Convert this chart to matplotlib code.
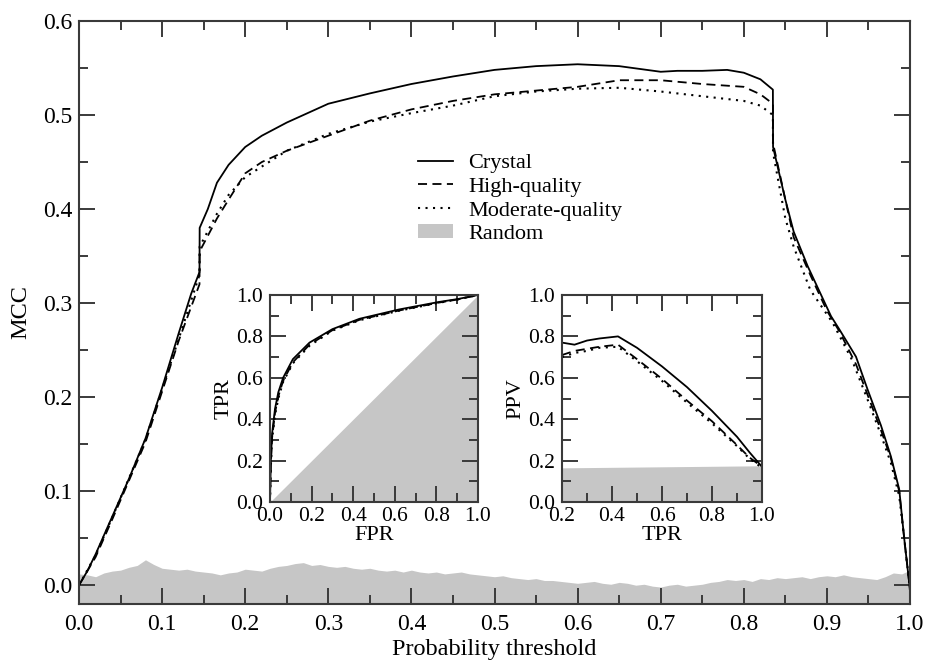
import matplotlib
matplotlib.use('Agg')
import matplotlib.pyplot as plt
import numpy as np
from matplotlib.patches import Patch
from matplotlib.ticker import MultipleLocator, FormatStrFormatter

plt.rcParams['font.family'] = ['Liberation Serif', 'DejaVu Serif']

# ---------------------------- main panel: MCC vs threshold ----------------------------
crystal_x = [0.0, 0.01, 0.02, 0.04, 0.06, 0.08, 0.10, 0.12, 0.135, 0.145, 0.1452, 0.155, 0.166,
             0.18, 0.20, 0.22, 0.25, 0.28, 0.30, 0.35, 0.40, 0.45, 0.50, 0.55, 0.60, 0.65, 0.70,
             0.72, 0.75, 0.78, 0.80, 0.82, 0.835, 0.8352, 0.85, 0.86, 0.877, 0.905, 0.915, 0.935,
             0.949, 0.965, 0.977, 0.987, 0.993, 1.0]
crystal_y = [0.0, 0.015, 0.033, 0.073, 0.113, 0.156, 0.21, 0.268, 0.31, 0.333, 0.38, 0.40, 0.428,
             0.447, 0.466, 0.478, 0.492, 0.504, 0.512, 0.523, 0.533, 0.541, 0.548, 0.552, 0.554, 0.552, 0.546,
             0.547, 0.547, 0.548, 0.545, 0.538, 0.527, 0.466, 0.41, 0.376, 0.339, 0.286, 0.272, 0.243,
             0.208, 0.17, 0.137, 0.102, 0.05, -0.005]

high_x = [0.0, 0.02, 0.04, 0.08, 0.12, 0.145, 0.1452, 0.166, 0.18, 0.20, 0.22, 0.25, 0.30, 0.35,
          0.40, 0.45, 0.50, 0.55, 0.60, 0.65, 0.70, 0.75, 0.80, 0.82, 0.835, 0.8352, 0.85, 0.86,
          0.88, 0.90, 0.915, 0.935, 0.95, 0.965, 0.977, 0.987, 0.993, 1.0]
high_y = [0.0, 0.03, 0.07, 0.152, 0.26, 0.32, 0.355, 0.39, 0.41, 0.438, 0.45, 0.462, 0.478, 0.494,
          0.506, 0.515, 0.522, 0.526, 0.53, 0.537, 0.537, 0.533, 0.53, 0.522, 0.512, 0.47, 0.41, 0.37,
          0.33, 0.292, 0.27, 0.235, 0.2, 0.165, 0.135, 0.1, 0.05, -0.005]

moderate_x = [0.0, 0.02, 0.04, 0.08, 0.12, 0.145, 0.1452, 0.166, 0.18, 0.20, 0.25, 0.30, 0.35,
              0.40, 0.45, 0.50, 0.55, 0.60, 0.65, 0.70, 0.75, 0.80, 0.82, 0.835, 0.8352, 0.85,
              0.86, 0.88, 0.907, 0.93, 0.95, 0.965, 0.977, 0.987, 0.993, 1.0]
moderate_y = [0.0, 0.032, 0.072, 0.155, 0.262, 0.33, 0.36, 0.395, 0.415, 0.434, 0.462, 0.48, 0.493,
              0.502, 0.51, 0.52, 0.525, 0.528, 0.529, 0.525, 0.52, 0.515, 0.51, 0.5, 0.46, 0.39,
              0.36, 0.314, 0.279, 0.24, 0.195, 0.16, 0.13, 0.095, 0.05, -0.005]

random_x = np.linspace(0, 1, 101)
random_y = [0.012, 0.011, 0.009, 0.013, 0.015, 0.016, 0.019, 0.021, 0.027, 0.022,
            0.018, 0.017, 0.016, 0.017, 0.015, 0.014, 0.013, 0.011, 0.013, 0.014,
            0.017, 0.016, 0.015, 0.018, 0.020, 0.021, 0.023, 0.024, 0.021, 0.022,
            0.020, 0.019, 0.020, 0.018, 0.017, 0.018, 0.016, 0.015, 0.016, 0.014,
            0.016, 0.014, 0.013, 0.014, 0.012, 0.013, 0.014, 0.012, 0.011, 0.010,
            0.009, 0.010, 0.008, 0.007, 0.006, 0.007, 0.005, 0.005, 0.004, 0.003,
            0.002, 0.003, 0.004, 0.002, 0.001, 0.003, 0.002, 0.000, 0.001, -0.001,
            -0.002, 0.000, 0.001, -0.001, 0.000, 0.001, 0.003, 0.004, 0.006, 0.005,
            0.006, 0.004, 0.007, 0.006, 0.008, 0.007, 0.008, 0.009, 0.007, 0.009,
            0.010, 0.009, 0.011, 0.009, 0.008, 0.007, 0.006, 0.009, 0.013, 0.012,
            0.016]

# ---------------------------- inset 1: ROC ----------------------------
roc_fpr = [0.0, 0.004, 0.01, 0.024, 0.04, 0.063, 0.11, 0.19, 0.30, 0.43, 0.62, 0.81, 0.9, 1.0]
roc_crystal = [0.0, 0.2, 0.33, 0.45, 0.53, 0.60, 0.69, 0.77, 0.835, 0.885, 0.93, 0.966, 0.98, 1.0]
roc_high = [0.0, 0.18, 0.31, 0.43, 0.51, 0.585, 0.675, 0.76, 0.83, 0.88, 0.925, 0.963, 0.978, 1.0]
roc_moderate = [0.0, 0.17, 0.30, 0.42, 0.50, 0.58, 0.67, 0.755, 0.828, 0.878, 0.924, 0.962, 0.978, 1.0]
roc_random_x = [0.0, 1.0]
roc_random_y = [0.0, 1.0]

# ---------------------------- inset 2: PPV vs TPR ----------------------------
ppv_tpr = [0.2, 0.25, 0.3, 0.35, 0.424, 0.5, 0.6, 0.7, 0.8, 0.9, 0.95, 1.0]
ppv_crystal = [0.77, 0.76, 0.78, 0.79, 0.80, 0.745, 0.655, 0.555, 0.44, 0.315, 0.24, 0.17]
ppv_high = [0.71, 0.73, 0.74, 0.75, 0.76, 0.69, 0.595, 0.49, 0.39, 0.275, 0.215, 0.17]
ppv_moderate = [0.70, 0.72, 0.73, 0.745, 0.75, 0.68, 0.585, 0.48, 0.38, 0.27, 0.21, 0.165]
ppv_random_x = [0.2, 0.6, 1.0]
ppv_random_y = [0.165, 0.17, 0.175]

gray = '#c6c6c6'
frame = '#3a3a3a'
fs = 17
fs_in = 15.5
lw = 1.3
dash = (0, (5, 3))
dots = (0, (1, 2.6))


def style_axes(ax, xmaj, xmin, ymaj, ymin, xpad, ypad, size):
    ax.xaxis.set_major_locator(MultipleLocator(xmaj))
    ax.xaxis.set_minor_locator(MultipleLocator(xmin))
    ax.yaxis.set_major_locator(MultipleLocator(ymaj))
    ax.yaxis.set_minor_locator(MultipleLocator(ymin))
    ax.tick_params(which='both', direction='in', top=True, right=True,
                   color=frame, width=1.4, labelsize=size)
    ax.tick_params(axis='x', pad=xpad)
    ax.tick_params(axis='y', pad=ypad)
    ax.tick_params(which='major', length=11.5)
    ax.tick_params(which='minor', length=6.5)
    ax.xaxis.set_major_formatter(FormatStrFormatter('%.1f'))
    ax.yaxis.set_major_formatter(FormatStrFormatter('%.1f'))
    for s in ax.spines.values():
        s.set_color(frame)
        s.set_linewidth(1.5)


fig = plt.figure(figsize=(9.28, 6.62), dpi=100)
ax = fig.add_axes([79 / 928, 58 / 662, 831 / 928, 583 / 662])

ax.fill_between(random_x, -0.02, random_y, color=gray, lw=0)
ax.plot(crystal_x, crystal_y, color='black', lw=lw, ls='-')
ax.plot(high_x, high_y, color='black', lw=lw, ls=dash)
ax.plot(moderate_x, moderate_y, color='black', lw=lw + 0.2, ls=dots)
ax.set_xlim(0, 1)
ax.set_ylim(-0.02, 0.6)
style_axes(ax, 0.1, 0.05, 0.1, 0.05, 7, 5, fs)
ax.set_xlabel('Probability threshold', fontsize=fs + 0.5, labelpad=3)
ax.set_ylabel('MCC', fontsize=fs + 0.5, labelpad=8)

handles = [plt.Line2D([], [], color='black', lw=lw, ls='-'),
           plt.Line2D([], [], color='black', lw=lw, ls=dash),
           plt.Line2D([], [], color='black', lw=lw + 0.2, ls=dots),
           Patch(facecolor=gray, edgecolor='none')]
ax.legend(handles, ['Crystal', 'High-quality', 'Moderate-quality', 'Random'],
          loc='upper left', bbox_to_anchor=(0.395, 0.792), frameon=False, fontsize=16,
          handlelength=1.55, handletextpad=0.7, labelspacing=0.17, borderpad=0,
          handleheight=0.6)

# inset ROC
ax1 = fig.add_axes([270 / 928, 160 / 662, 208 / 928, 207 / 662])
ax1.fill_between(roc_random_x, 0, roc_random_y, color=gray, lw=0)
ax1.plot(roc_fpr, roc_crystal, color='black', lw=lw, ls='-')
ax1.plot(roc_fpr, roc_high, color='black', lw=lw, ls=dash)
ax1.plot(roc_fpr, roc_moderate, color='black', lw=lw + 0.2, ls=dots)
ax1.set_xlim(0, 1)
ax1.set_ylim(0, 1)
style_axes(ax1, 0.2, 0.1, 0.2, 0.1, 3.5, 5, fs_in)
ax1.set_xlabel('FPR', fontsize=fs_in + 0.5, labelpad=0)
ax1.set_ylabel('TPR', fontsize=fs_in + 0.5, labelpad=2)

# inset PPV
ax2 = fig.add_axes([562 / 928, 160 / 662, 200 / 928, 207 / 662])
ax2.fill_between(ppv_random_x, 0, ppv_random_y, color=gray, lw=0)
ax2.plot(ppv_tpr, ppv_crystal, color='black', lw=lw, ls='-')
ax2.plot(ppv_tpr, ppv_high, color='black', lw=lw, ls=dash)
ax2.plot(ppv_tpr, ppv_moderate, color='black', lw=lw + 0.2, ls=dots)
ax2.set_xlim(0.2, 1)
ax2.set_ylim(0, 1)
style_axes(ax2, 0.2, 0.1, 0.2, 0.1, 3.5, 5, fs_in)
ax2.set_xlabel('TPR', fontsize=fs_in + 0.5, labelpad=0)
ax2.set_ylabel('PPV', fontsize=fs_in + 0.5, labelpad=2)

plt.savefig('out.png', dpi=100)
